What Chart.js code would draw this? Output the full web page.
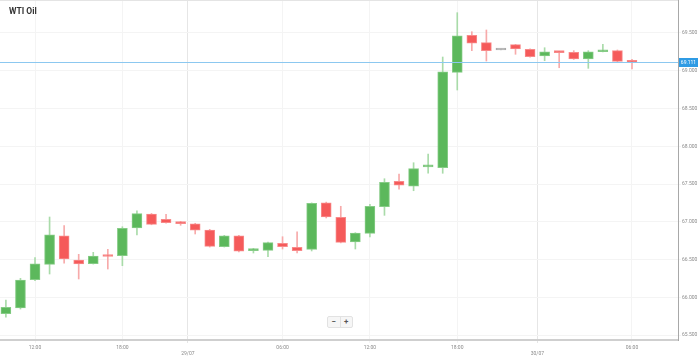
<!DOCTYPE html>
<html><head><meta charset="utf-8">
<script src="https://cdn.jsdelivr.net/npm/chart.js@4"></script>
<style>
html,body{margin:0;padding:0;background:#fff;overflow:hidden;}
#wrap{position:relative;width:699px;height:359px;}
#title{position:absolute;left:9px;top:6px;font:bold 8.5px Roboto, Arial, sans-serif;color:#333;}
#zoom{position:absolute;left:327px;top:316px;width:24px;height:10px;border:1px solid #e2e2e2;background:#f6f6f6;display:flex;font:bold 8px Roboto, Arial, sans-serif;color:#555;border-radius:2px}
#zoom span{flex:1;text-align:center;line-height:10px}
#zoom span:first-child{border-right:1px solid #e2e2e2}
</style></head><body>
<div id="wrap"><canvas id="c" width="699" height="359"></canvas><div id="title">WTI Oil</div><div id="zoom"><span>−</span><span>+</span></div></div>
<script>
const opens  = [65.782,65.858,66.232,66.436,66.815,66.493,66.444,66.546,66.550,66.917,67.103,67.032,66.982,66.974,66.891,66.670,66.815,66.617,66.622,66.715,66.662,66.635,67.252,67.059,66.732,66.847,67.199,67.536,67.470,67.726,67.716,68.979,69.470,69.372,69.275,69.345,69.284,69.195,69.247,69.244,69.156,69.252,69.266,69.118];
const closes = [65.867,66.228,66.444,66.828,66.507,66.440,66.546,66.540,66.913,67.107,66.966,66.987,66.976,66.887,66.675,66.815,66.609,66.635,66.723,66.670,66.617,67.244,67.063,66.728,66.851,67.205,67.523,67.483,67.703,67.732,68.987,69.464,69.364,69.266,69.275,69.288,69.186,69.252,69.240,69.156,69.252,69.275,69.125,69.111];
const highs  = [65.964,66.251,66.524,67.063,66.948,66.569,66.595,66.635,66.934,67.146,67.110,67.099,67.006,66.980,66.900,66.820,66.820,66.648,66.732,66.802,66.868,67.250,67.260,67.205,66.855,67.231,67.570,67.632,67.782,67.897,69.182,69.769,69.517,69.540,69.275,69.350,69.290,69.305,69.252,69.266,69.266,69.350,69.275,69.152];
const lows   = [65.738,65.844,66.220,66.308,66.450,66.242,66.440,66.374,66.418,66.825,66.960,66.980,66.953,66.838,66.665,66.665,66.600,66.586,66.537,66.639,66.586,66.613,67.050,66.720,66.639,66.798,67.085,67.430,67.411,67.642,67.642,68.745,69.266,69.129,69.275,69.218,69.180,69.133,69.040,69.150,69.032,69.250,69.120,69.023];
const tickPositions = [2, 8, 12.5, 19, 25, 31, 36.5, 43];
const tickLabels    = ['12:00','18:00','29/07','06:00','12:00','18:00','30/07','06:00'];
const tickIsDate    = [false,false,true,false,false,false,true,false];
const yTicks = [65.5,66.0,66.5,67.0,67.5,68.0,68.5,69.0,69.5];
const currentPrice = 69.111;

const UP='#5cb85c', DOWN='#f55a5a', FLAT='#aaaaaa';
const UPW='#a9dba9', DOWNW='#f7aaaa', FLATW='#c8c8c8';
const dir = opens.map((o,i)=> closes[i]>o?1:(closes[i]<o?-1:0));
const bodyCol = dir.map(d=> d>0?UP:(d<0?DOWN:FLAT));
const bodyBorder = dir.map(d=> d>0?'#86cc86':(d<0?'#f88a8a':FLAT));
const wickCol = dir.map(d=> d>0?UPW:(d<0?DOWNW:FLATW));

Chart.defaults.font.family = 'Roboto, Arial, sans-serif';

const pricePlugin = {
  id:'price',
  afterDatasetsDraw(chart){
    const {ctx, chartArea:a, scales:{y}} = chart;
    const py = Math.round(y.getPixelForValue(currentPrice))+0.5;
    ctx.save();
    ctx.strokeStyle='#e4e4e4'; ctx.lineWidth=1;
    ctx.beginPath(); ctx.moveTo(a.left,0.5); ctx.lineTo(a.right,0.5); ctx.stroke();
    ctx.strokeStyle='#8cc8f0'; ctx.lineWidth=1;
    ctx.beginPath(); ctx.moveTo(a.left,py); ctx.lineTo(a.right,py); ctx.stroke();
    ctx.fillStyle='#2f9be4';
    ctx.fillRect(a.right+1, py-4.5, 19, 9);
    ctx.fillStyle='#fff'; ctx.font='5px Roboto, Arial, sans-serif';
    ctx.textAlign='center'; ctx.textBaseline='middle';
    ctx.fillText(currentPrice.toFixed(3), a.right+10.5, py);
    ctx.restore();
  }
};

new Chart(document.getElementById('c'), {
  type:'bar',
  data:{
    datasets:[
      { label:'body', order:0, grouped:false, barThickness:10, minBarLength:2,
        data: opens.map((o,i)=>({x:i, y:[o, closes[i]]})),
        backgroundColor: bodyCol, borderColor: bodyBorder, borderWidth:1, borderSkipped:false },
      { label:'wick', order:1, grouped:false, barThickness:1, minBarLength:1,
        data: lows.map((l,i)=>({x:i, y:[l, highs[i]]})),
        backgroundColor: wickCol, borderWidth:0 }
    ]
  },
  options:{
    responsive:false, animation:false,
    layout:{padding:0},
    plugins:{legend:{display:false}, tooltip:{enabled:false}},
    scales:{
      x:{ type:'linear', min:-0.405, max:46.16, offset:false,
        afterBuildTicks: s=>{ s.ticks = tickPositions.map(v=>({value:v})); },
        afterFit: s=>{ s.height = 19; s.paddingLeft = 0; s.paddingRight = 0; },
        ticks:{ autoSkip:false, maxRotation:0, font:{size:5}, color:'#8a8a8a', padding:2,
          callback:(v,i)=> tickIsDate[i] ? ['', tickLabels[i]] : tickLabels[i] },
        grid:{ offset:false, color: c => (c.index!==undefined && tickIsDate[c.index]) ? '#e6e6e6' : '#f4f4f4', tickLength:3 },
        border:{ color:'#cfcfcf', width:2 }
      },
      y:{ type:'linear', position:'right', min:65.434, max:69.937, beginAtZero:false,
        afterBuildTicks: s=>{ s.ticks = yTicks.map(v=>({value:v})); },
        afterFit: s=>{ s.width = 21; s.paddingTop = 0; s.paddingBottom = 0; },
        ticks:{ font:{size:5}, color:'#8a8a8a', padding:1, callback:v=>Number(v).toFixed(3) },
        grid:{ color:'#f4f4f4', tickLength:3 },
        border:{ color:'#a8a8a8', width:1 }
      }
    }
  },
  plugins:[pricePlugin]
});
</script>
</body></html>
